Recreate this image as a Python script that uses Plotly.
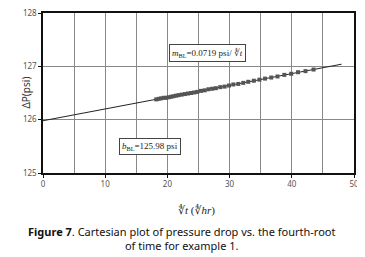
import plotly.graph_objects as go

# fourth-root of time (hr^0.25) and pressure drop (psi)
t4 = [18.2, 18.6, 19.0, 19.4, 19.8, 20.2, 20.6, 21.0, 21.4, 21.8, 22.3, 22.8,
      23.3, 23.8, 24.3, 24.8, 25.4, 26.0, 26.6, 27.2, 27.8, 28.5, 29.2, 29.9,
      30.6, 31.4, 32.2, 33.0, 33.9, 34.8, 35.7, 36.7, 37.7, 38.8, 39.9, 41.0,
      42.2, 43.5]
dp = [126.38, 126.39, 126.40, 126.41, 126.41, 126.42, 126.43, 126.44, 126.45,
      126.46, 126.47, 126.48, 126.49, 126.50, 126.51, 126.52, 126.54, 126.55,
      126.57, 126.58, 126.59, 126.61, 126.62, 126.64, 126.66, 126.67, 126.69,
      126.71, 126.73, 126.75, 126.77, 126.79, 126.81, 126.84, 126.86, 126.89,
      126.91, 126.94]
fit_x = [0, 48]
fit_y = [125.98, 127.04]

fig = go.Figure()
fig.add_trace(go.Scatter(x=fit_x, y=fit_y, mode="lines",
                         line=dict(color="#222", width=1), showlegend=False))
fig.add_trace(go.Scatter(x=t4, y=dp, mode="markers",
                         marker=dict(symbol="square", size=4, color="#555"),
                         showlegend=False))

sans = "Noto Sans, DejaVu Sans, sans-serif"
serif = "Liberation Serif, DejaVu Serif, serif"

fig.add_annotation(x=26.4, y=127.25, xref="x", yref="y", showarrow=False,
                   text="<i>m</i><sub>BL</sub>=0.0719 psi/ ∜<i>t</i>",
                   font=dict(family=serif, size=9, color="#222"),
                   bordercolor="#444", borderwidth=1, bgcolor="white", borderpad=2)
fig.add_annotation(x=17.2, y=125.49, xref="x", yref="y", showarrow=False,
                   text="<i>b</i><sub>BL</sub>=125.98 psi",
                   font=dict(family=serif, size=9, color="#222"),
                   bordercolor="#444", borderwidth=1, bgcolor="white", borderpad=2)

fig.add_annotation(x=-0.085, y=0.5, xref="paper", yref="paper", showarrow=False,
                   text="ΔP(psi)", textangle=-90,
                   font=dict(family=sans, size=10, color="#333"))
fig.add_annotation(x=0.495, y=-0.23, xref="paper", yref="paper", showarrow=False,
                   yanchor="middle",
                   text="∜<i>t</i> (∜<i>hr</i>)",
                   font=dict(family=serif, size=11, color="#222"))
fig.add_annotation(x=0.444, y=-0.41, xref="paper", yref="paper", showarrow=False,
                   xanchor="center", yanchor="middle", align="center",
                   text="<b>Figure 7</b>. Cartesian plot of pressure drop vs. the fourth-root<br>of time for example 1.",
                   font=dict(family=sans, size=11, color="#111"))

fig.update_layout(
    width=357, height=249,
    margin=dict(l=35, r=11, t=5, b=84, autoexpand=False),
    paper_bgcolor="white", plot_bgcolor="white",
    xaxis=dict(range=[0, 50], dtick=10, showgrid=True, gridcolor="#888",
               gridwidth=1, minor=dict(dtick=5, showgrid=True, gridcolor="#888"),
               showline=True, linecolor="#111", linewidth=1.5, mirror=True,
               ticks="outside", ticklen=3, tickcolor="#111", automargin=False,
               ticklabeloverflow="allow",
               tickfont=dict(family=sans, size=8, color="#555"), zeroline=False),
    yaxis=dict(range=[125, 128], dtick=1, showgrid=True, gridcolor="#888",
               gridwidth=1, showline=True, linecolor="#111", linewidth=1.5,
               mirror=True, ticks="outside", ticklen=3, tickcolor="#111",
               automargin=False, ticklabeloverflow="allow",
               tickfont=dict(family=sans, size=8, color="#555"), zeroline=False),
)

fig.write_html("out.html")
